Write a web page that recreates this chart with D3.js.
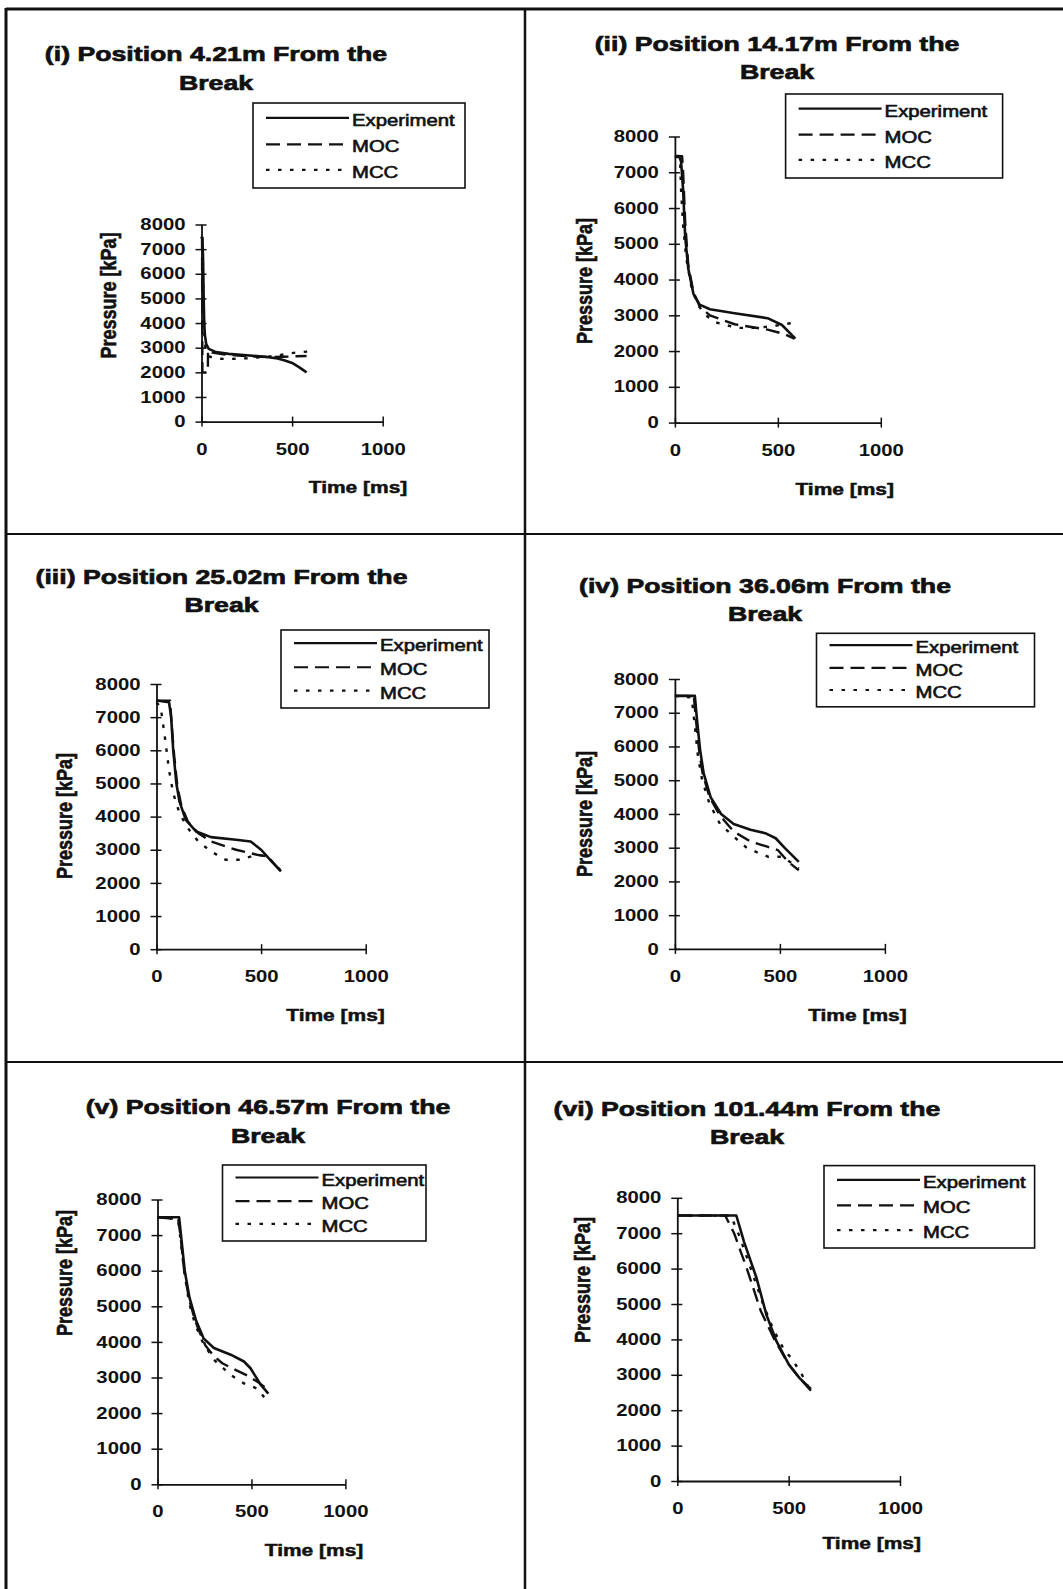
<!DOCTYPE html>
<html>
<head>
<meta charset="utf-8">
<script src="https://cdn.jsdelivr.net/npm/d3@7.9.0/dist/d3.min.js"></script>
<style>
  body { margin: 0; background: #fff; }
  svg { display: block; }
  text { font-family: "Liberation Sans", Arial, sans-serif; fill: #111; }
</style>
</head>
<body>
<svg id="chart" width="1063" height="1589"></svg>
<script>
// ---- data ----
const seriesNames = ["Experiment", "MOC", "MCC"];
const panelTitles = [
  "(i) Position 4.21m From the",
  "(ii) Position 14.17m From the",
  "(iii) Position 25.02m From the",
  "(iv) Position 36.06m From the",
  "(v) Position 46.57m From the",
  "(vi) Position 101.44m From the"
];
const titleLine2 = "Break";
const xTicks = [0, 500, 1000];
const yTicks = [0, 1000, 2000, 3000, 4000, 5000, 6000, 7000, 8000];
const xLabelText = "Time [ms]";
const yLabelText = "Pressure [kPa]";

// [time ms, pressure kPa]
const p1Exp = [[0,7500],[5,7450],[9,6500],[12,5000],[15,4000],[19,3500],[26,3150],[40,2950],[80,2820],[150,2750],[250,2690],[350,2630],[420,2560],[460,2480],[500,2380],[540,2200],[580,2000]];
const p1Moc = [[0,7500],[3,7500],[5,2000],[35,2000],[36,2900],[60,2800],[120,2730],[200,2680],[300,2640],[380,2620],[450,2630],[520,2650],[580,2660]];
const p1Mcc = [[0,7500],[4,7400],[8,6000],[12,4500],[16,3500],[22,3000],[40,2650],[80,2560],[150,2540],[250,2570],[350,2620],[420,2680],[480,2760],[540,2820],[600,2850]];

const p2Exp = [[0,7450],[20,7450],[30,7300],[40,6500],[50,5200],[65,4300],[90,3600],[120,3300],[170,3170],[290,3060],[450,2920],[520,2730],[585,2350]];
const p2Moc = [[0,7450],[35,7450],[40,7000],[50,5600],[65,4400],[90,3650],[120,3250],[170,3000],[290,2750],[450,2600],[530,2480],[580,2350]];
const p2Mcc = [[0,7450],[25,7400],[30,6500],[40,5500],[55,4600],[80,3800],[110,3300],[150,3000],[200,2800],[300,2650],[400,2650],[480,2700],[530,2750],[585,2800]];

const p3Exp = [[0,7500],[60,7450],[70,7000],[80,6000],[95,5000],[110,4450],[140,3900],[190,3550],[260,3380],[380,3300],[450,3250],[500,3000],[550,2650],[595,2350]];
const p3Moc = [[0,7500],[65,7500],[72,6800],[85,5800],[100,4900],[120,4300],[150,3850],[200,3500],[260,3250],[380,3000],[480,2850],[530,2800],[595,2350]];
const p3Mcc = [[0,7450],[20,7300],[40,6400],[60,5400],[80,4700],[110,4100],[150,3650],[200,3250],[260,2950],[330,2700],[400,2700],[480,2850],[530,2800],[590,2400]];

const p4Exp = [[0,7500],[95,7500],[105,6800],[120,5900],[137,5200],[170,4500],[220,4000],[280,3700],[360,3530],[430,3430],[480,3280],[525,2980],[590,2580]];
const p4Moc = [[0,7500],[90,7500],[100,6800],[115,5900],[132,5200],[165,4500],[215,3950],[280,3480],[360,3180],[440,3030],[490,2930],[540,2580],[590,2330]];
const p4Mcc = [[0,7500],[80,7450],[95,6600],[110,5700],[130,5000],[165,4300],[215,3700],[280,3330],[345,2980],[445,2730],[510,2730],[560,2530],[590,2380]];

const p5Exp = [[0,7500],[115,7500],[125,7000],[145,6000],[170,5250],[205,4600],[245,4100],[300,3830],[390,3640],[460,3450],[495,3260],[550,2790],[590,2550]];
const p5Moc = [[0,7500],[110,7450],[122,7000],[142,6000],[168,5200],[200,4600],[230,4200],[255,3900],[300,3600],[345,3400],[400,3250],[480,3050],[540,2850],[590,2650]];
const p5Mcc = [[0,7500],[110,7450],[122,6900],[142,6000],[168,5100],[200,4500],[240,4000],[300,3500],[390,3070],[460,2835],[530,2690],[590,2300]];

const p6Exp = [[0,7500],[265,7500],[300,6750],[355,5750],[400,4700],[445,3950],[500,3300],[550,2900],[600,2600]];
const p6Moc = [[0,7500],[215,7500],[255,7000],[315,5950],[375,4800],[440,3950],[500,3300],[550,2900],[600,2550]];
const p6Mcc = [[0,7500],[240,7500],[280,6900],[330,6000],[385,5000],[430,4300],[480,3700],[515,3450],[560,3000],[600,2500]];

const panelData = [
  [p1Exp, p1Moc, p1Mcc],
  [p2Exp, p2Moc, p2Mcc],
  [p3Exp, p3Moc, p3Mcc],
  [p4Exp, p4Moc, p4Mcc],
  [p5Exp, p5Moc, p5Mcc],
  [p6Exp, p6Moc, p6Mcc]
];

// ---- layout (pixel positions per panel) ----
const layout = [
  { x0: 201.5, x1: 382.7, yb: 421.6, yt: 224.5, title: [216, 61],    legend: [253, 103, 212, 85],     xt: [358, 492.7],   yl: [107.7, 295.5] },
  { x0: 674.9, x1: 880.8, yb: 422.6, yt: 136.5, title: [777, 50.8],  legend: [785.6, 94, 217, 84],    xt: [844.7, 495],   yl: [583.5, 281] },
  { x0: 156.5, x1: 365.7, yb: 949.2, yt: 684,   title: [221.5, 583.5], legend: [281, 630, 208, 78],   xt: [335.5, 1021],  yl: [64.3, 816] },
  { x0: 674.9, x1: 884.9, yb: 948.9, yt: 679,   title: [765, 592.6], legend: [816.5, 633.3, 218, 73.5], xt: [857.4, 1021], yl: [583.5, 814] },
  { x0: 157.5, x1: 345.4, yb: 1484.3, yt: 1199.5, title: [268, 1114], legend: [222.5, 1165, 203.5, 76], xt: [314, 1556],  yl: [64.3, 1273] },
  { x0: 677.3, x1: 900,   yb: 1481, yt: 1197.8, title: [747, 1115.9], legend: [824, 1165.6, 210.6, 82.4], xt: [871.7, 1549.3], yl: [581.8, 1280] }
];

const SX = 1.27; // the scanned lettering is wide, stretch text horizontally
const dashes = [null, "14,7", "3.5,8.5"];

const svg = d3.select("#chart");

// frame of the figure
const frame = svg.append("g").attr("stroke", "#111").attr("fill", "none");
frame.append("line").attr("x1", 6).attr("x2", 1063).attr("y1", 9).attr("y2", 9).attr("stroke-width", 3);
frame.append("line").attr("x1", 6).attr("x2", 6).attr("y1", 8).attr("y2", 1589).attr("stroke-width", 3);
frame.append("line").attr("x1", 525).attr("x2", 525).attr("y1", 8).attr("y2", 1589).attr("stroke-width", 2.5);
frame.append("line").attr("x1", 6).attr("x2", 1063).attr("y1", 534).attr("y2", 534).attr("stroke-width", 2);
frame.append("line").attr("x1", 6).attr("x2", 1063).attr("y1", 1062).attr("y2", 1062).attr("stroke-width", 2);

// text with the wide scanned look; stroke darkens it like the photocopy
function label(g, x, y, txt, size, weight, anchor, rotate, heavy = 0) {
  return g.append("text")
    .attr("transform", `translate(${x},${y}) scale(${SX},1)` + (rotate ? " rotate(-90)" : ""))
    .attr("text-anchor", anchor)
    .style("font-size", size + "px")
    .style("font-weight", weight)
    .style("stroke", heavy ? "#111" : null)
    .style("stroke-width", heavy || null)
    .text(txt);
}

layout.forEach((L, i) => {
  const g = svg.append("g");
  const x = d3.scaleLinear().domain([0, 1000]).range([L.x0, L.x1]);
  const y = d3.scaleLinear().domain([0, 8000]).range([L.yb, L.yt]);

  // titles
  label(g, L.title[0], L.title[1], panelTitles[i], 21, "bold", "middle", false, 0.7);
  label(g, L.title[0], L.title[1] + 28.5, titleLine2, 21, "bold", "middle", false, 0.7);

  // axes
  const yAxis = g.append("g")
    .attr("transform", `translate(${L.x0},0)`)
    .call(d3.axisLeft(y).tickValues(yTicks).tickFormat(d3.format("d")).tickSize(6).tickSizeOuter(0))
    .attr("font-size", 16).attr("font-family", null);
  yAxis.selectAll(".tick line").attr("x1", 5).attr("stroke-width", 1.5);
  yAxis.selectAll(".tick text").attr("x", null)
    .attr("transform", `translate(-16,0) scale(${SX},1)`);

  const xAxis = g.append("g")
    .attr("transform", `translate(0,${L.yb})`)
    .call(d3.axisBottom(x).tickValues(xTicks).tickFormat(d3.format("d")).tickSize(5).tickSizeOuter(0))
    .attr("font-size", 16).attr("font-family", null);
  xAxis.selectAll(".tick line").attr("y1", -5).attr("stroke-width", 1.5);
  xAxis.selectAll(".tick text").attr("y", null).attr("dy", null)
    .attr("transform", `translate(0,33) scale(${SX},1)`);
  g.selectAll(".tick text").style("font-weight", "bold");
  g.selectAll(".domain").attr("stroke", "#111").attr("stroke-width", 1.8);
  g.selectAll(".tick line").attr("stroke", "#111");

  // axis titles
  label(g, L.xt[0], L.xt[1], xLabelText, 16.5, "bold", "middle", false, 0.5);
  label(g, L.yl[0] + 8, L.yl[1], yLabelText, 18, "bold", "middle", true, 0.5);

  // curves
  const line = d3.line().x(d => x(d[0])).y(d => y(d[1]));
  panelData[i].forEach((s, k) => {
    g.append("path")
      .datum(s)
      .attr("d", line)
      .attr("fill", "none")
      .attr("stroke", "#111")
      .attr("stroke-width", k === 0 ? 2.6 : 2.4)
      .attr("stroke-linejoin", "round")
      .attr("stroke-dasharray", dashes[k]);
  });

  // legend
  const [lx, ly, lw, lh] = L.legend;
  const lg = g.append("g");
  lg.append("rect").attr("x", lx).attr("y", ly).attr("width", lw).attr("height", lh)
    .attr("fill", "#fff").attr("stroke", "#111").attr("stroke-width", 1.6);
  [0.27, 0.58, 0.88].forEach((f, k) => {
    const by = ly + lh * f;
    lg.append("line")
      .attr("x1", lx + 13).attr("x2", lx + 96)
      .attr("y1", by - 8).attr("y2", by - 8)
      .attr("stroke", "#111").attr("stroke-width", 2.2)
      .attr("stroke-dasharray", dashes[k]);
    label(lg, lx + 99, by, seriesNames[k], 16, "normal", "start", false, 0.6);
  });
});
</script>
</body>
</html>
